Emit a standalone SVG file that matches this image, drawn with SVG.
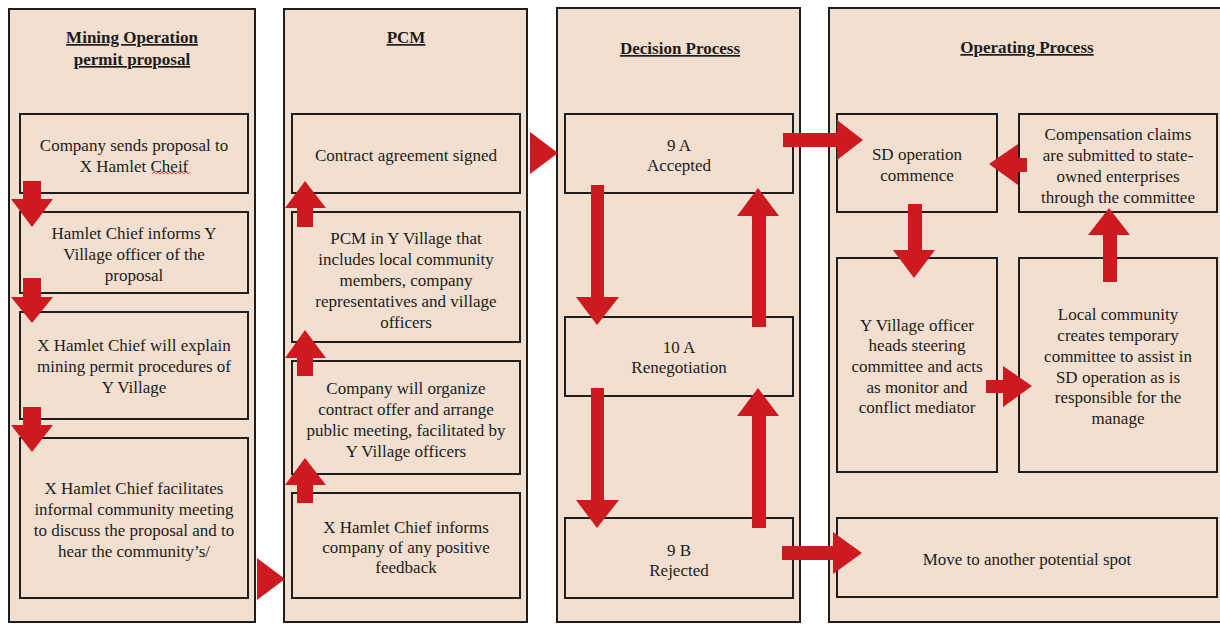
<svg xmlns="http://www.w3.org/2000/svg" width="1220" height="624" viewBox="0 0 1220 624">
<style>
  .col{fill:#f2dfcf;stroke:#1e1e1e;stroke-width:2}
  .box{fill:#f2dfcf;stroke:#1e1e1e;stroke-width:2}
  .t{font-family:"Liberation Serif","Times New Roman",serif;font-size:17px;fill:#1c1c1c;text-anchor:middle}
  .h{font-family:"Liberation Serif","Times New Roman",serif;font-size:17px;font-weight:bold;fill:#1c1c1c;text-anchor:middle;text-decoration:underline}
  .ar{fill:#cc1a20;stroke:none}
</style>
<rect width="1220" height="624" fill="#ffffff"/>

<g id="col-mining">
  <rect class="col" x="9" y="9" width="246" height="613"/>
  <text class="h" x="132" y="43">Mining Operation</text>
  <text class="h" x="132" y="65">permit proposal</text>
</g>
<g id="col-pcm">
  <rect class="col" x="284" y="9" width="243" height="613"/>
  <text class="h" x="406" y="43">PCM</text>
</g>
<g id="col-decision">
  <rect class="col" x="557" y="8" width="243" height="614"/>
  <text class="h" x="680" y="54">Decision Process</text>
</g>
<g id="col-operating">
  <rect class="col" x="829" y="8" width="392" height="614"/>
  <text class="h" x="1027" y="53">Operating Process</text>
</g>

<g id="m1">
  <rect class="box" x="20" y="114" width="228" height="79"/>
  <text class="t" x="134" y="151">Company sends proposal to</text>
  <text class="t" x="134" y="172">X Hamlet Cheif</text>
  <path d="M152,174 l2,-2 l2,2 l2,-2 l2,2 l2,-2 l2,2 l2,-2 l2,2 l2,-2 l2,2 l2,-2 l2,2 l2,-2 l2,2 l2,-2 l2,2 l2,-2 l2,2 l2,-2" fill="none" stroke="#d02020" stroke-width="0.8"/>
</g>
<g id="m2">
  <rect class="box" x="20" y="212" width="228" height="81"/>
  <text class="t" x="134" y="239">Hamlet Chief informs Y</text>
  <text class="t" x="134" y="260">Village officer of the</text>
  <text class="t" x="134" y="281">proposal</text>
</g>
<g id="m3">
  <rect class="box" x="20" y="312" width="228" height="107"/>
  <text class="t" x="134" y="351">X Hamlet Chief will explain</text>
  <text class="t" x="134" y="372">mining permit procedures of</text>
  <text class="t" x="134" y="393">Y Village</text>
</g>
<g id="m4">
  <rect class="box" x="20" y="438" width="228" height="160"/>
  <text class="t" x="134" y="494">X Hamlet Chief facilitates</text>
  <text class="t" x="134" y="515">informal community meeting</text>
  <text class="t" x="134" y="536">to discuss the proposal and to</text>
  <text class="t" x="134" y="557">hear the community’s/</text>
</g>

<g id="p1">
  <rect class="box" x="292" y="114" width="228" height="79"/>
  <text class="t" x="406" y="161">Contract agreement signed</text>
</g>
<g id="p2">
  <rect class="box" x="292" y="212" width="228" height="130"/>
  <text class="t" x="406" y="244">PCM in Y Village that</text>
  <text class="t" x="406" y="265">includes local community</text>
  <text class="t" x="406" y="286">members, company</text>
  <text class="t" x="406" y="307">representatives and village</text>
  <text class="t" x="406" y="328">officers</text>
</g>
<g id="p3">
  <rect class="box" x="292" y="361" width="228" height="113"/>
  <text class="t" x="406" y="394">Company will organize</text>
  <text class="t" x="406" y="415">contract offer and arrange</text>
  <text class="t" x="406" y="436">public meeting, facilitated by</text>
  <text class="t" x="406" y="457">Y Village officers</text>
</g>
<g id="p4">
  <rect class="box" x="292" y="493" width="228" height="105"/>
  <text class="t" x="406" y="533">X Hamlet Chief informs</text>
  <text class="t" x="406" y="553">company of any positive</text>
  <text class="t" x="406" y="573">feedback</text>
</g>

<g id="d1">
  <rect class="box" x="565" y="114" width="228" height="79"/>
  <text class="t" x="679" y="151">9 A</text>
  <text class="t" x="679" y="171">Accepted</text>
</g>
<g id="d2">
  <rect class="box" x="565" y="317" width="228" height="79"/>
  <text class="t" x="679" y="353">10 A</text>
  <text class="t" x="679" y="373">Renegotiation</text>
</g>
<g id="d3">
  <rect class="box" x="565" y="518" width="228" height="80"/>
  <text class="t" x="679" y="556">9 B</text>
  <text class="t" x="679" y="576">Rejected</text>
</g>

<g id="o1">
  <rect class="box" x="837" y="114" width="160" height="98"/>
  <text class="t" x="917" y="160">SD operation</text>
  <text class="t" x="917" y="181">commence</text>
</g>
<g id="o2">
  <rect class="box" x="1019" y="114" width="198" height="98"/>
  <text class="t" x="1118" y="140">Compensation claims</text>
  <text class="t" x="1118" y="161">are submitted to state-</text>
  <text class="t" x="1118" y="182">owned enterprises</text>
  <text class="t" x="1118" y="203">through the committee</text>
</g>
<g id="o3">
  <rect class="box" x="837" y="258" width="160" height="214"/>
  <text class="t" x="917" y="331">Y Village officer</text>
  <text class="t" x="917" y="351">heads steering</text>
  <text class="t" x="917" y="372">committee and acts</text>
  <text class="t" x="917" y="393">as monitor and</text>
  <text class="t" x="917" y="413">conflict mediator</text>
</g>
<g id="o4">
  <rect class="box" x="1019" y="258" width="198" height="214"/>
  <text class="t" x="1118" y="320">Local community</text>
  <text class="t" x="1118" y="341">creates temporary</text>
  <text class="t" x="1118" y="362">committee to assist in</text>
  <text class="t" x="1118" y="383">SD operation as is</text>
  <text class="t" x="1118" y="403">responsible for the</text>
  <text class="t" x="1118" y="424">manage</text>
</g>
<g id="o5">
  <rect class="box" x="837" y="518" width="380" height="79"/>
  <text class="t" x="1027" y="565">Move to another potential spot</text>
</g>

<g id="connectors">
  <!-- column 1 down arrows -->
  <polygon class="ar" points="23,181 41,181 41,199 53,199 32,227 11,199 23,199"/>
  <polygon class="ar" points="23,278 41,278 41,297 53,297 32,323 11,297 23,297"/>
  <polygon class="ar" points="23,407 41,407 41,425 53,425 32,452 11,425 23,425"/>
  <!-- col1 to col2 -->
  <polygon class="ar" points="257,558 285,579 257,600"/>
  <!-- column 2 up arrows -->
  <polygon class="ar" points="297,227 313,227 313,208 326,208 305,181 285,208 297,208"/>
  <polygon class="ar" points="297,376 313,376 313,358 326,358 305,330 285,358 297,358"/>
  <polygon class="ar" points="297,503 313,503 313,485 326,485 305,458 285,485 297,485"/>
  <!-- col2 to col3 -->
  <polygon class="ar" points="530,132 558,153 530,174"/>
  <!-- decision down arrows -->
  <polygon class="ar" points="591,185 604,185 604,297 619,297 597,325 576,297 591,297"/>
  <polygon class="ar" points="591,388 604,388 604,500 619,500 597,528 576,500 591,500"/>
  <!-- decision up arrows -->
  <polygon class="ar" points="752,327 766,327 766,216 779,216 758,188 737,216 752,216"/>
  <polygon class="ar" points="752,528 766,528 766,416 779,416 758,388 737,416 752,416"/>
  <!-- to operating -->
  <polygon class="ar" points="783,133 837,133 837,120 863,140 837,160 837,147 783,147"/>
  <polygon class="ar" points="782,546 833,546 833,532 862,553 833,574 833,560 782,560"/>
  <!-- operating arrows -->
  <polygon class="ar" points="1027,158 1018,158 1018,144 989,164 1018,185 1018,172 1027,172"/>
  <polygon class="ar" points="908,204 922,204 922,250 935,250 914,278 893,250 908,250"/>
  <polygon class="ar" points="1103,282 1117,282 1117,235 1130,235 1109,208 1088,235 1103,235"/>
  <polygon class="ar" points="986,380 1003,380 1003,366 1032,386 1003,407 1003,393 986,393"/>
</g>
</svg>
